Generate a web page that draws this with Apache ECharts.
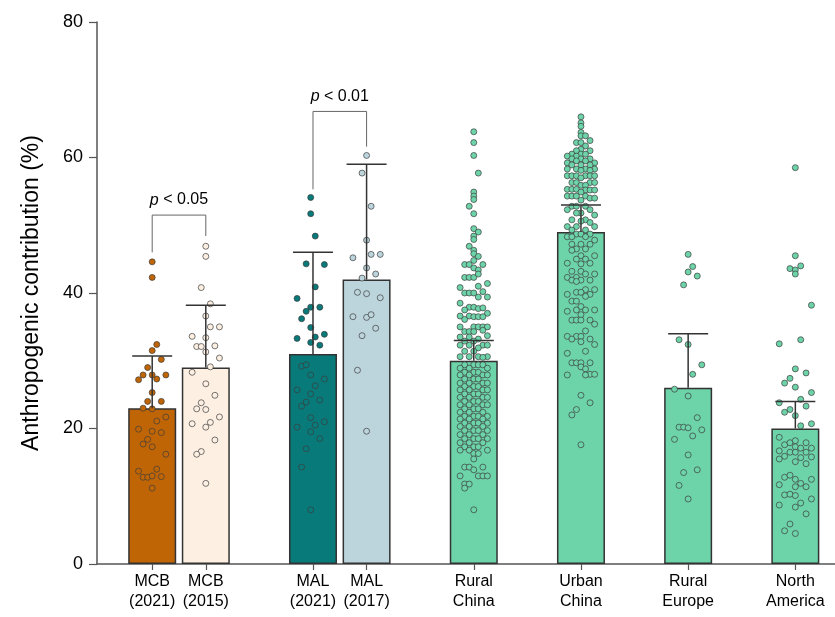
<!DOCTYPE html>
<html>
<head>
<meta charset="utf-8">
<script src="https://cdn.jsdelivr.net/npm/echarts@6/dist/echarts.min.js"></script>
<style>
html,body{margin:0;padding:0;background:#fff;}
#chart{width:835px;height:617px;}
</style>
</head>
<body>
<div id="chart"></div>
<script>
// ---------------- DATA ----------------
const categories = ['MCB\n(2021)', 'MCB\n(2015)', 'MAL\n(2021)', 'MAL\n(2017)', 'Rural\nChina', 'Urban\nChina', 'Rural\nEurope', 'North\nAmerica'];
const positions = [0, 1, 3, 4, 6, 8, 10, 12];
const means = [23, 29, 31, 42, 30, 49, 26, 20];
const upperErr = [30.7, 38.2, 46, 59, 33, 53, 34, 24];
const yTicks = [0, 20, 40, 60, 80];

// significance brackets: [leftPos, rightPos, top, leftEnd, rightEnd, label]
const brackets = [
  [0, 1, 51.5, 46, 48.4, '0.05'],
  [3, 4, 66.8, 55.3, 61.6, '0.01']
];

// individual points: [jitter slot, value]
const mcb2021Points = [
  [0,44.6],[0,42.3],[1,32.4],[0,31.5],[2,30.2],[-1,29.0],[-2,27.9],[-3,27.2],[0,27.9],[1,27.3],[3,27.9],
  [0,25.3],[-1,24.0],[2,24.0],[-2,23.0],[0,22.9],[3,21.7],[1,21.1],[-3,19.9],[0,19.6],[2,19.4],[-1,18.4],
  [-2,17.7],[0,17.3],[3,16.2],[-3,13.7],[1,14.0],[-2,12.8],[-1,12.8],[0,13.0],[2,12.9],[0,11.2]
];
const mcb2015Points = [
  [0,46.9],[0,45.4],[-1,40.8],[1,38.4],[0,36.6],[1,35.0],[3,35.0],[-3,33.6],[0,33.4],[-2,32.1],[-1,32.1],
  [2,32.2],[0,31.3],[3,30.4],[1,29.1],[-3,28.3],[0,26.6],[2,24.9],[-1,23.8],[-2,22.9],[0,22.8],[3,21.7],
  [1,20.9],[-3,20.7],[0,20.2],[2,18.3],[-1,16.6],[-2,16.2],[0,11.9]
];
const mal2021Points = [
  [-0.5,54.1],[-0.5,51.7],[0.5,48.4],[-1.5,44.3],[2.5,44.2],[0.5,40.9],[-3.5,39.2],[-0.5,37.9],[1.5,37.9],
  [-1.5,37.3],[-2.5,36.2],[-0.5,34.9],[2.5,33.9],[-3.5,33.3],[0.5,33.5],[-0.5,32.7],[1.5,32.3],
  [-2.5,29.2],[-1.5,29.4],[-0.5,27.9],[2.5,27.3],[0.5,26.3],[-3.5,25.7],[-0.5,25.1],[-1.5,23.9],[1.5,24.2],
  [-2.5,23.3],[-0.5,21.6],[2.5,21.0],[-3.5,20.2],[0.5,20.5],[-0.5,19.5],[1.5,18.5],[-1.5,17.0],[-2.5,14.3],[-0.5,8.0]
];
const mal2017Points = [
  [0,60.3],[-1,57.7],[1,52.8],[0,47.8],[-3,45.2],[1,45.7],[3,45.7],[0,43.7],[2,42.8],[-1,42.2],[-2,40.1],
  [0,39.9],[3,39.3],[-3,36.5],[0,36.4],[1,36.8],[2,34.8],[-1,33.7],[-2,28.6],[0,19.6]
];
const ruralChinaPoints = [
  [0,63.8],[0,62.2],[0,60.3],[1,57.7],[0,54.9],[0,54.3],[0,53.8],[-1,52.8],[0,51.7],[0,49.5],[1,49.0],[0,48.4],
  [0,47.9],[-1,46.9],[0,46.3],[0,45.8],[1,45.4],[0,44.8],[-2,44.2],[-1,44.2],[2,44.2],[0,43.7],[1,43.4],
  [-2,42.3],[-1,42.3],[0,42.3],[1,42.8],[3,41.4],[1,41.0],[-3,40.8],[-2,40.0],[-1,40.0],[0,40.0],[2,40.2],
  [3,39.4],[1,39.4],[-3,38.5],[-1,37.9],[0,37.9],[1,37.7],[2,37.8],[-2,37.5],[3,37.0],[-3,36.6],[-1,36.6],
  [0,36.5],[1,36.5],[2,36.5],[-2,36.1],[-3,35.0],[0,35.0],[1,35.0],[2,35.0],[3,35.0],[-2,34.3],[-1,34.3],
  [0,34.3],[2,34.5],[3,33.7],[-3,33.5],[-1,33.5],[1,33.2],[-2,32.9],[0,32.9],[-3,32.3],[-1,32.3],[2,32.3],
  [3,32.3],[1,31.9],[-2,31.4],[0,31.4],[-3,30.6],[-1,30.6],[1,30.6],[3,30.6],[2,30.5],
  [-2,29.4],[0,29.4],[1,29.4],[2,29.4],[-3,28.9],[-1,28.9],[3,28.9],[-2,28.3],[0,28.3],[1,28.3],
  [-3,27.9],[-1,27.9],[2,27.9],[3,27.9],[-2,27.3],[0,27.3],[1,27.3],[-3,26.7],[-1,26.7],[2,26.7],[3,26.7],
  [-2,26.2],[0,26.2],[1,26.2],[-3,25.7],[-1,25.7],[2,25.7],[3,25.7],[-2,25.1],[0,25.1],[1,25.1],
  [-3,24.6],[-1,24.6],[2,24.6],[3,24.6],[-2,24.0],[0,24.0],[1,24.0],[-3,23.5],[-1,23.5],[2,23.5],[3,23.5],
  [-2,22.9],[0,22.9],[1,22.9],[-3,22.4],[-1,22.4],[2,22.4],[-2,21.8],[0,21.8],[1,21.8],[3,21.8],
  [-3,21.4],[-1,21.4],[2,21.4],[-2,20.8],[0,20.8],[1,20.8],[3,20.8],[-3,20.3],[-1,20.3],[2,20.3],
  [-2,19.7],[0,19.7],[1,19.7],[3,19.7],[-3,19.1],[-1,19.1],[2,19.1],[-2,18.5],[0,18.5],[1,18.5],[3,18.5],
  [-3,17.9],[-1,17.9],[2,17.9],[-2,17.3],[0,17.3],[1,17.3],[-3,16.8],[-1,16.8],[3,16.8],[0,16.3],[1,16.3],
  [0,15.5],[-2,14.3],[-1,14.3],[2,14.3],[0,13.9],[-3,13.0],[1,13.0],[2,13.0],[3,13.0],[-2,11.8],[-1,11.8],
  [-2,11.2],[0,8.0]
];
const urbanChinaPoints = [
  [0,66.0],[0,65.1],[0,64.6],[0,63.7],[0,63.2],[1,63.2],[2,62.5],[-1,62.2],[0,62.2],[1,61.7],[0,61.2],
  [-1,61.0],[2,61.0],[-2,60.5],[0,60.5],[1,60.5],[-3,60.2],[-1,60.2],[-2,59.8],[0,59.8],[2,59.8],[-1,59.5],
  [1,59.5],[-3,59.2],[3,59.2],[-2,58.9],[0,58.9],[2,58.9],[-3,58.3],[-1,58.3],[1,58.3],[3,58.3],[0,58.1],
  [2,58.1],[-3,57.3],[-2,57.3],[-1,57.3],[1,57.3],[2,57.3],[3,57.3],[0,57.0],[-2,56.3],[-1,56.3],[2,56.3],
  [3,56.3],[0,55.9],[1,55.9],[-3,55.3],[-2,55.3],[-1,55.3],[1,55.2],[2,55.2],[3,55.2],[0,54.9],[-3,54.3],
  [-2,54.3],[-1,54.3],[1,54.3],[2,54.0],[3,54.0],[0,53.7],[-2,52.8],[-1,52.8],[1,52.8],[-3,52.3],[2,52.3],
  [0,51.8],[-1,51.8],[3,51.5],[-2,50.8],[1,50.8],[0,50.6],[2,50.4],[-3,49.8],[-1,49.8],[3,49.8],[-2,49.3],[1,49.3],
  [-1,48.7],[0,48.7],[2,48.7],[-3,48.3],[-2,48.3],[1,48.3],[3,47.8],[-2,47.2],[0,47.2],[2,47.2],[-1,46.5],
  [1,46.5],[-2,46.3],[0,45.5],[3,45.5],[-1,45.0],[1,45.0],[-3,44.4],[2,44.4],[0,44.3],[-2,43.2],[0,43.2],
  [1,42.8],[3,42.8],[-3,42.3],[-1,42.3],[-2,41.9],[0,41.9],[2,41.9],[-1,41.7],[1,40.5],[3,40.5],[-1,40.1],
  [0,40.1],[-3,39.8],[2,39.8],[1,39.5],[-2,38.8],[-1,38.8],[0,38.0],[-1,37.5],[1,37.5],[3,37.5],[-3,37.3],
  [0,36.8],[-2,36.0],[-1,36.0],[0,36.0],[2,36.0],[3,35.4],[1,34.4],[-3,33.6],[-1,33.6],[0,33.6],[-2,33.2],
  [2,33.2],[0,32.8],[3,32.4],[1,31.4],[-3,31.1],[-2,29.7],[-1,29.7],[0,29.7],[2,29.7],[0,29.1],[1,28.8],
  [2,28.0],[3,28.0],[-3,27.9],[1,27.9],[0,24.9],[2,23.8],[-1,22.8],[-2,22.0],[0,17.6]
];
const ruralEuropePoints = [
  [0,45.7],[1,43.9],[0,43.1],[2,42.5],[-1,41.2],[-2,33.1],[0,32.4],[3,29.4],[1,28.0],[-3,25.8],[0,24.8],
  [2,21.6],[-2,20.2],[-1,20.2],[0,20.1],[3,19.8],[1,18.9],[-3,18.4],[0,16.1],[-1,13.5],[2,13.9],[-2,11.6],[0,9.6]
];
const northAmericaPoints = [
  [0,58.5],[0,45.5],[-1,43.6],[0,43.4],[1,44.0],[0,42.8],[3,38.2],[1,33.1],[-3,32.5],[0,28.8],[2,28.2],
  [-1,27.4],[-2,26.7],[0,26.1],[3,25.3],[1,24.3],[-3,23.8],[2,23.3],[-1,22.8],[-2,22.4],[0,21.9],[1,20.4],
  [3,20.7],[-3,18.7],[-2,17.6],[-1,17.9],[0,18.2],[2,17.9],[0,17.3],[1,17.1],[3,17.1],[-3,16.7],[-1,16.5],
  [0,16.5],[2,16.5],[-2,15.9],[1,15.7],[3,15.8],[-3,15.5],[0,15.1],[2,14.8],[-2,12.8],[-1,13.1],[0,12.5],
  [1,11.9],[3,12.5],[-3,11.7],[0,11.4],[2,11.4],[-2,10.2],[-1,10.3],[0,10.1],[3,9.6],[-3,8.7],[0,8.4],
  [1,9.0],[2,7.4],[-1,5.9],[-2,4.9],[0,4.5]
];
const pointGroups = [mcb2021Points, mcb2015Points, mal2021Points, mal2017Points, ruralChinaPoints, urbanChinaPoints, ruralEuropePoints, northAmericaPoints];

// ---------------- STYLE ----------------
const barColors = ['#c06505', '#fdf0e3', '#087a7a', '#bcd5dd', '#6dd3a9', '#6dd3a9', '#6dd3a9', '#6dd3a9'];
const jitterSpread = [1, 1, 1, 1, 1, 1, 1, 1.18];
const slotUnit = 4.55 / 53.6;
const FONT = '"Liberation Sans", Arial, sans-serif';

const chart = echarts.init(document.getElementById('chart'), null, {renderer: 'canvas'});

const labelMap = {};
positions.forEach((p, i) => { labelMap[p] = categories[i]; });

const series = [];

series.push({
  type: 'bar',
  barWidth: 48,
  z: 2,
  data: positions.map((p, i) => ({
    value: [p, means[i]],
    itemStyle: {color: barColors[i], borderColor: '#333', borderWidth: 1.5}
  })),
  silent: true
});

pointGroups.forEach((pts, gi) => {
  series.push({
    type: 'scatter',
    z: 3,
    symbolSize: 6,
    itemStyle: {color: barColors[gi], borderColor: '#3c3c3c', borderWidth: 0.7, opacity: 1},
    data: pts.map(d => [positions[gi] + d[0] * slotUnit * jitterSpread[gi], d[1]]),
    silent: true
  });
});

// error bars
series.push({
  type: 'custom',
  z: 5,
  silent: true,
  data: positions.map((p, i) => [p, means[i], upperErr[i]]),
  renderItem: function (params, api) {
    const base = api.coord([api.value(0), api.value(1)]);
    const top = api.coord([api.value(0), api.value(2)]);
    const half = 20;
    return {
      type: 'group',
      children: [
        {type: 'line', shape: {x1: base[0], y1: base[1], x2: top[0], y2: top[1]}, style: {stroke: '#333', lineWidth: 1.5}},
        {type: 'line', shape: {x1: top[0] - half, y1: top[1], x2: top[0] + half, y2: top[1]}, style: {stroke: '#333', lineWidth: 1.5}}
      ]
    };
  }
});

// significance brackets
series.push({
  type: 'custom',
  z: 5,
  silent: true,
  data: brackets.map(b => [b[0], b[1], b[2], b[3], b[4]]),
  renderItem: function (params, api) {
    const b = brackets[params.dataIndex];
    const tl = api.coord([api.value(0), api.value(2)]);
    const tr = api.coord([api.value(1), api.value(2)]);
    const bl = api.coord([api.value(0), api.value(3)]);
    const br = api.coord([api.value(1), api.value(4)]);
    return {
      type: 'group',
      children: [
        {type: 'polyline', shape: {points: [bl, tl, tr, br]}, style: {stroke: '#666', lineWidth: 1, fill: null}},
        {type: 'text', x: (tl[0] + tr[0]) / 2, y: tl[1] - 15,
          style: {
            text: '{i|p} < ' + b[5],
            rich: {i: {fontStyle: 'italic', fontSize: 16, fontFamily: FONT, fill: '#000'}},
            fontSize: 16, fontFamily: FONT, fill: '#000',
            align: 'center', verticalAlign: 'middle'
          }}
      ]
    };
  }
});

chart.setOption({
  animation: false,
  backgroundColor: '#fff',
  grid: {left: 97, right: 0, top: 22, bottom: 53, containLabel: false},
  xAxis: {
    type: 'value',
    min: -1.03,
    max: 12.74,
    splitLine: {show: false},
    axisLine: {show: true, onZero: false, lineStyle: {color: '#555', width: 1.5}},
    axisTick: {show: true, customValues: positions, length: 6, lineStyle: {color: '#555', width: 1.2}},
    axisLabel: {
      show: true,
      customValues: positions,
      formatter: v => labelMap[v] || '',
      fontSize: 16, fontFamily: FONT, color: '#000', lineHeight: 20, margin: 8
    }
  },
  yAxis: {
    type: 'value',
    min: 0, max: 80, interval: 20,
    splitLine: {show: false},
    axisLine: {show: true, onZero: false, lineStyle: {color: '#555', width: 1.5}},
    axisTick: {show: true, length: 8, lineStyle: {color: '#555', width: 1.2}},
    axisLabel: {fontSize: 18, fontFamily: FONT, color: '#000', margin: 14,
      formatter: v => yTicks.indexOf(v) >= 0 ? String(v) : ''},
    name: 'Anthropogenic contribution (%)',
    nameLocation: 'middle',
    nameGap: 54,
    nameTextStyle: {fontSize: 23, fontFamily: FONT, color: '#000'}
  },
  series: series
});
</script>
</body>
</html>
